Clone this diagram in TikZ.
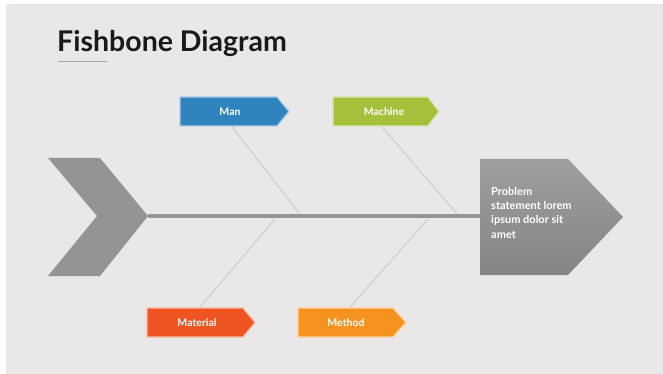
\documentclass[tikz,border=0pt]{standalone}
\usepackage{fontspec}
\setmainfont{Lato}
\begin{document}
\begin{tikzpicture}[x=1pt,y=-1pt,
  bone/.style={draw=black!22,line width=0.8pt},
  tag/.style={line width=1.2pt},
  taglabel/.style={text=white,font=\bfseries\fontsize{10.5}{12}\selectfont,inner sep=0pt}]
\definecolor{bgc}{HTML}{E9E7E8}
\definecolor{mancol}{HTML}{2F84BD}
\definecolor{machcol}{HTML}{A5C03A}
\definecolor{matcol}{HTML}{EE5523}
\definecolor{methcol}{HTML}{F6931E}
\definecolor{fishgray}{HTML}{959495}
\useasboundingbox (0,0) rectangle (663,374);
\fill[white] (0,0) rectangle (663,374);
\fill[bgc] (6,4) rectangle (663,374);
% title
\node[anchor=base west,inner sep=0pt,font=\bfseries\fontsize{28.5}{30}\selectfont,text=black!90] (title) at (57,52) {Fishbone Diagram};
\draw[black!35,line width=1pt] (58,62) -- (107,62);
% spine
\coordinate (tailtip) at (148,216);
\coordinate (headleft) at (481,216);
\draw[fishgray,line width=3.5pt] (tailtip) -- (headleft);
% tail chevron
\fill[fishgray] (48,158) -- (100,158) -- (148,216) -- (100,276) -- (48,276) -- (97,216) -- cycle;
% head
\shade[top color=black!38,bottom color=black!48] (480,159) -- (568,159) -- (623,217) -- (568,275) -- (480,275) -- cycle;
\node[anchor=north west,align=left,text=white,font=\bfseries\fontsize{11}{14.3}\selectfont,inner sep=0pt] (head) at (491,187) {Problem\\statement lorem\\ipsum dolor sit\\amet};
% spine junctions
\coordinate (j1) at (300,214);
\coordinate (j2) at (457,214);
\coordinate (j3) at (275,219);
\coordinate (j4) at (428,219);
% tags
\fill[mancol,draw=mancol!40!white,tag] (180,97) -- (277,97) -- (289,111.5) -- (277,126) -- (180,126) -- cycle;
\node[taglabel] (man) at (230,111.5) {Man};
\fill[machcol,draw=machcol!40!white,tag] (333,97) -- (428,97) -- (439,111.5) -- (428,126) -- (333,126) -- cycle;
\node[taglabel] (mach) at (384,111.5) {Machine};
\fill[matcol,draw=matcol!40!white,tag] (147,308) -- (243,308) -- (255,322.5) -- (243,337) -- (147,337) -- cycle;
\node[taglabel] (mat) at (197,322.5) {Material};
\fill[methcol,draw=methcol!40!white,tag] (298,308) -- (393,308) -- (406,322.5) -- (393,337) -- (298,337) -- cycle;
\node[taglabel] (meth) at (346,322.5) {Method};
% bones
\draw[bone] (232,126.8) -- (j1);
\draw[bone] (382,126.8) -- (j2);
\draw[bone] (200,307.2) -- (j3);
\draw[bone] (350,307.2) -- (j4);
\end{tikzpicture}
\end{document}
